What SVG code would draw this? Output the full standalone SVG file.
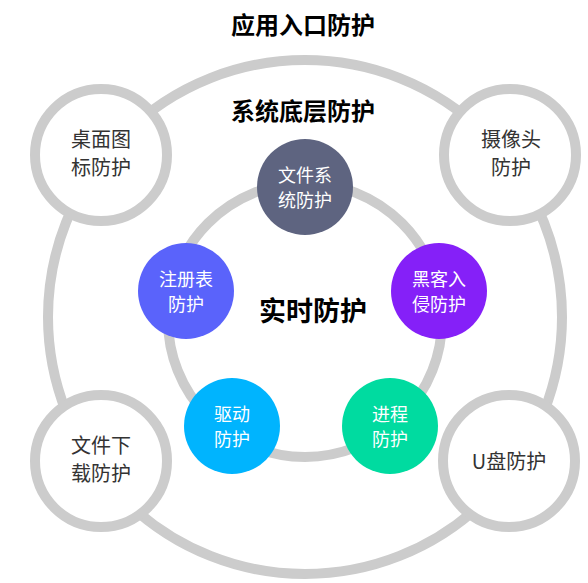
<svg xmlns="http://www.w3.org/2000/svg" width="588" height="583" viewBox="0 0 588 583">
<style>
.ring{fill:none;stroke:#cccccc;stroke-width:10}
.onode{fill:#ffffff;stroke:#cccccc;stroke-width:10}
.otxt{font-family:"Noto Sans CJK SC","Liberation Sans",sans-serif;font-size:20px;fill:#333333;text-anchor:middle}
.itxt{font-family:"Noto Sans CJK SC","Liberation Sans",sans-serif;font-size:18px;fill:#ffffff;text-anchor:middle}
.title{font-family:"Noto Sans CJK SC","Liberation Sans",sans-serif;font-weight:bold;fill:#000000;text-anchor:middle}
</style>
<rect width="588" height="583" fill="#ffffff"/>
<g id="connectors">
<circle class="ring" cx="305" cy="317" r="257"/>
<circle class="ring" cx="305" cy="320" r="137"/>
</g>
<g id="title-outer"><text class="title" x="303" y="34" font-size="24">应用入口防护</text></g>
<g id="title-mid"><text class="title" x="303" y="120" font-size="24">系统底层防护</text></g>
<g id="title-inner"><text class="title" x="313" y="321" font-size="27">实时防护</text></g>
<g id="n-desktop">
<circle class="onode" cx="101" cy="155" r="66"/>
<text class="otxt" x="101" y="147">桌面图</text>
<text class="otxt" x="101" y="175">标防护</text>
</g>
<g id="n-camera">
<circle class="onode" cx="510" cy="155" r="66"/>
<text class="otxt" x="511" y="147">摄像头</text>
<text class="otxt" x="511" y="175">防护</text>
</g>
<g id="n-download">
<circle class="onode" cx="101" cy="461" r="66"/>
<text class="otxt" x="101" y="453">文件下</text>
<text class="otxt" x="101" y="481">载防护</text>
</g>
<g id="n-usb">
<circle class="onode" cx="509" cy="461" r="66"/>
<text class="otxt" x="509" y="469">U盘防护</text>
</g>
<g id="n-fs">
<circle cx="305" cy="187" r="48" fill="#5e6480"/>
<text class="itxt" x="305" y="182">文件系</text>
<text class="itxt" x="305" y="207">统防护</text>
</g>
<g id="n-reg">
<circle cx="186" cy="291" r="48" fill="#5a63fb"/>
<text class="itxt" x="186" y="286">注册表</text>
<text class="itxt" x="186" y="311">防护</text>
</g>
<g id="n-hack">
<circle cx="439" cy="291" r="48" fill="#8520f8"/>
<text class="itxt" x="439" y="286">黑客入</text>
<text class="itxt" x="439" y="311">侵防护</text>
</g>
<g id="n-driver">
<circle cx="232" cy="426" r="48" fill="#00b4fe"/>
<text class="itxt" x="232" y="421">驱动</text>
<text class="itxt" x="232" y="446">防护</text>
</g>
<g id="n-proc">
<circle cx="390" cy="426" r="48" fill="#00dba0"/>
<text class="itxt" x="390" y="421">进程</text>
<text class="itxt" x="390" y="446">防护</text>
</g>
</svg>
